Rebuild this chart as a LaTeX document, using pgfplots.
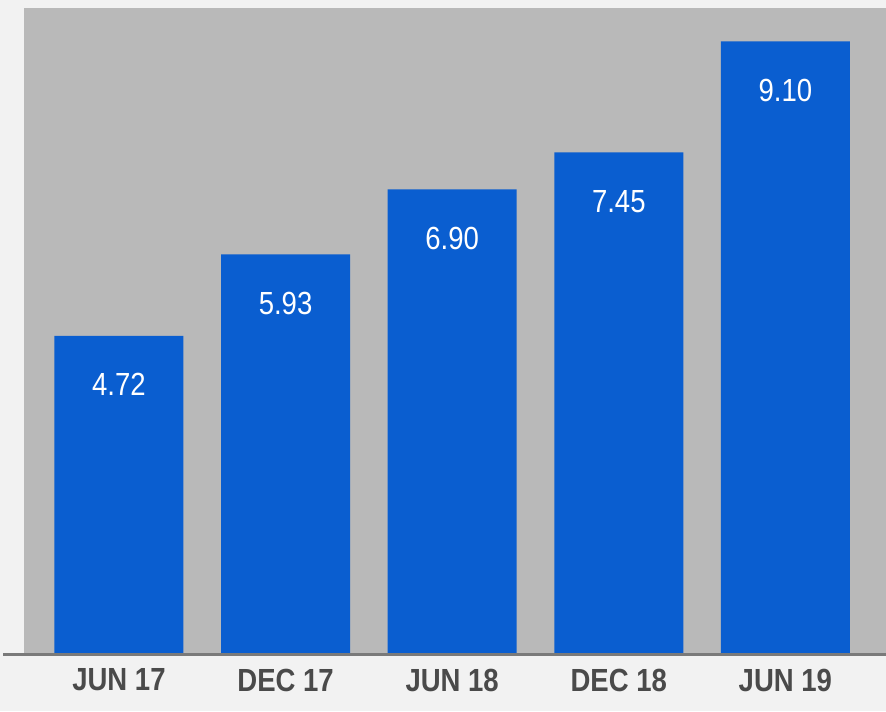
\documentclass[border=0pt]{standalone}
\usepackage{pgfplots}
\pgfplotsset{compat=1.18}
\usepackage{fontspec}
\setmainfont{Liberation Sans}[FakeStretch=0.86]
\definecolor{bgout}{HTML}{F2F2F2}
\definecolor{plotbg}{HTML}{B9B9B9}
\definecolor{barblue}{HTML}{0A5ED0}
\definecolor{lbl}{HTML}{4A4A4A}
\definecolor{baseln}{HTML}{7A7A7A}
\begin{document}
\begin{tikzpicture}
\path[use as bounding box, fill=bgout] (0,0) rectangle (443pt,355.5pt);
\begin{axis}[
  at={(12pt,29pt)}, anchor=south west,
  scale only axis,
  width=431pt, height=322.5pt,
  xmin=-0.570, xmax=4.604,
  ymin=0, ymax=9.598,
  axis background/.style={fill=plotbg},
  axis line style={draw=none},
  ytick=\empty,
  xtick={0,1,2,3,4},
  xticklabels={JUN 17, DEC 17, JUN 18, DEC 18, JUN 19},
  major tick length=0pt,
  xticklabel style={anchor=center, yshift=-13.5pt, font=\fontsize{16}{18}\selectfont\bfseries, text=lbl},
  ybar, bar width=0.774,
  point meta=explicit symbolic,
  nodes near coords,
  every node near coord/.append style={anchor=center, yshift=-24.5pt, text=white, font=\fontsize{16}{18}\selectfont},
  clip=false,
]
\addplot[fill=barblue, draw=none] coordinates {
  (0,4.72) [4.72]
  (1,5.93) [5.93]
  (2,6.90) [6.90]
  (3,7.45) [7.45]
  (4,9.10) [9.10]
};
\end{axis}
\draw[baseln, line width=1.5pt] (1.5pt,28.5pt) -- (443pt,28.5pt);
\end{tikzpicture}
\end{document}
